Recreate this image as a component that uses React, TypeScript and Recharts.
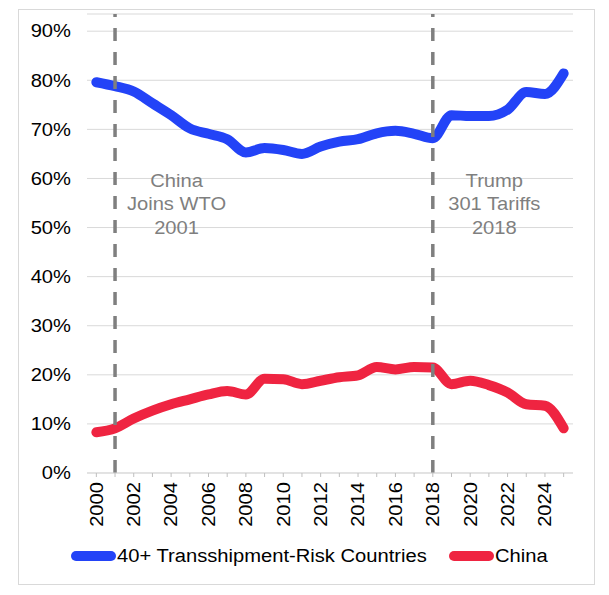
import React from "react";
import {
  LineChart,
  Line,
  XAxis,
  YAxis,
  CartesianGrid,
  ReferenceLine,
} from "recharts";

const years = [
  "2000", "2001", "2002", "2003", "2004", "2005", "2006", "2007", "2008",
  "2009", "2010", "2011", "2012", "2013", "2014", "2015", "2016", "2017",
  "2018", "2019", "2020", "2021", "2022", "2023", "2024", "2025",
];

const transshipmentShare = [
  79.6, 78.8, 77.7, 75.3, 72.9, 70.2, 69.1, 68.0, 65.3, 66.2, 65.8, 65.0, 66.5,
  67.5, 68.0, 69.2, 69.7, 69.1, 68.2, 72.9, 72.7, 72.7, 74.0, 77.6, 77.2, 81.4,
];

const chinaShare = [
  8.3, 9.1, 11.1, 12.7, 14.0, 15.0, 16.0, 16.7, 16.0, 19.2, 19.1, 18.1, 18.8,
  19.5, 19.9, 21.6, 21.1, 21.6, 21.5, 18.1, 18.8, 17.9, 16.4, 14.0, 13.7, 9.1,
];

const yTicks = [0, 10, 20, 30, 40, 50, 60, 70, 80, 90];

const wtoNote = ["China", "Joins WTO", "2001"];
const tariffNote = ["Trump", "301 Tariffs", "2018"];

const data = years.map((year, i) => ({
  year,
  transshipment: transshipmentShare[i],
  china: chinaShare[i],
}));

const BLUE = "#2343F7";
const RED = "#EF2441";
const FONT = '"Liberation Sans", Arial, sans-serif';
// the source text is a little wider than plain Arial
const STRETCH = 1.12;

function YearTick(props: any) {
  const { x, y, payload } = props;
  if (Number(payload.value) % 2 !== 0) return <g />;
  return (
    <g transform={`translate(${x},${y})`}>
      <text
        transform={`rotate(-90) scale(${STRETCH},1)`}
        textAnchor="end"
        dy="0.35em"
        fontSize={18}
        fontFamily={FONT}
        fill="#000"
      >
        {payload.value}
      </text>
    </g>
  );
}

function PercentTick(props: any) {
  const { x, y, payload } = props;
  return (
    <text
      transform={`translate(${x},${y}) scale(${STRETCH},1)`}
      textAnchor="end"
      dy="0.35em"
      fontSize={18}
      fontFamily={FONT}
      fill="#000"
    >
      {`${payload.value}%`}
    </text>
  );
}

const renderNote = (lines: string[]) => (props: any) => {
  const { viewBox } = props;
  const cx = viewBox.x + 61.5;
  return (
    <text
      transform={`translate(${cx},${viewBox.y}) scale(${STRETCH},1)`}
      textAnchor="middle"
      fontSize={18}
      fontFamily={FONT}
      fill="#7F7F7F"
    >
      {lines.map((line, i) => (
        <tspan key={line} x={0} y={173 + i * 23.5}>
          {line}
        </tspan>
      ))}
    </text>
  );
};

function LegendItem({ color, label, left }: { color: string; label: string; left: number }) {
  return (
    <div style={{ position: "absolute", left, top: 0, display: "flex", alignItems: "center", height: 22 }}>
      <div style={{ width: 45, height: 10, borderRadius: 5, background: color, marginRight: 1 }} />
      <span
        style={{
          display: "inline-block",
          fontSize: 18,
          fontFamily: FONT,
          color: "#000",
          whiteSpace: "nowrap",
          transform: `scaleX(${STRETCH})`,
          transformOrigin: "left center",
        }}
      >
        {label}
      </span>
    </div>
  );
}

export default function App() {
  return (
    <div
      style={{
        marginLeft: 10,
        marginTop: 1,
        width: 577,
        height: 576,
        border: "1px solid #d9d9d9",
        boxSizing: "border-box",
        position: "relative",
        background: "#fff",
      }}
    >
      <LineChart
        width={574}
        height={573}
        data={data}
        margin={{ top: 4, right: 20, left: 0, bottom: 40 }}
      >
        <CartesianGrid vertical={false} stroke="#d9d9d9" />
        <XAxis
          dataKey="year"
          interval={0}
          height={70}
          padding={{ left: 9.35, right: 9.35 }}
          axisLine={{ stroke: "#d9d9d9" }}
          tickLine={{ stroke: "#bfbfbf" }}
          tickSize={4}
          tickMargin={5}
          tick={<YearTick />}
        />
        <YAxis
          domain={[0, 93.5]}
          ticks={yTicks}
          interval={0}
          width={68}
          axisLine={false}
          tickLine={false}
          tickMargin={10}
          tick={<PercentTick />}
        />
        <Line
          dataKey="transshipment"
          type="monotone"
          stroke={BLUE}
          strokeWidth={10}
          strokeLinecap="round"
          strokeLinejoin="round"
          dot={false}
          isAnimationActive={false}
        />
        <Line
          dataKey="china"
          type="monotone"
          stroke={RED}
          strokeWidth={10}
          strokeLinecap="round"
          strokeLinejoin="round"
          dot={false}
          isAnimationActive={false}
        />
        <ReferenceLine
          x="2001"
          stroke="#7F7F7F"
          strokeWidth={3.5}
          strokeDasharray="13 11"
          label={renderNote(wtoNote)}
        />
        <ReferenceLine
          x="2018"
          stroke="#7F7F7F"
          strokeWidth={3.5}
          strokeDasharray="13 11"
          label={renderNote(tariffNote)}
        />
      </LineChart>
      <div style={{ position: "absolute", left: 0, top: 535, width: "100%", height: 22 }}>
        <LegendItem color={BLUE} label="40+ Transshipment-Risk Countries" left={52} />
        <LegendItem color={RED} label="China" left={430} />
      </div>
    </div>
  );
}
